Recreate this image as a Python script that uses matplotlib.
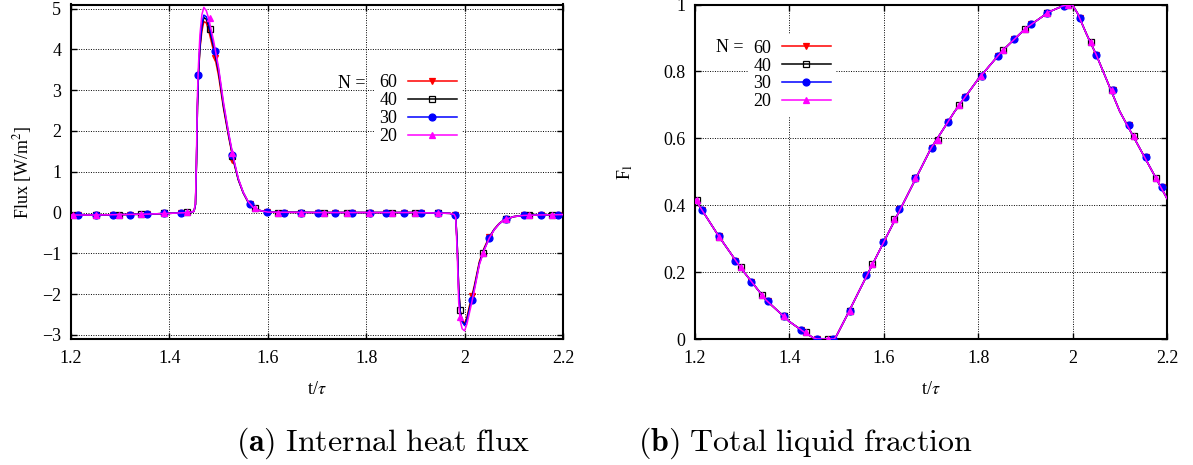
import matplotlib
matplotlib.use('Agg')
from matplotlib import pyplot as plt
from matplotlib.legend_handler import HandlerTuple

plt.rcParams['font.family'] = ['Liberation Serif', 'DejaVu Serif']
plt.rcParams['mathtext.fontset'] = 'stix'

# ---- (a) internal heat flux, lines (common time grid) ----
t_flux = [1.20, 1.25, 1.30, 1.35, 1.40, 1.44, 1.450, 1.453, 1.455, 1.457, 1.459, 1.462, 1.466,
          1.470, 1.475, 1.480, 1.490, 1.500, 1.510, 1.520, 1.530, 1.540, 1.550, 1.560, 1.570,
          1.580, 1.600, 1.700, 1.800, 1.900, 1.970, 1.979, 1.982, 1.985, 1.988, 1.991, 1.995,
          2.000, 2.005, 2.010, 2.015, 2.020, 2.030, 2.040, 2.050, 2.060, 2.070, 2.080, 2.100,
          2.120, 2.150, 2.200]
flux_60 = [-0.06, -0.06, -0.05, -0.04, -0.02, 0.0, 0.03, 0.2, 1.2, 2.6, 3.35, 4.0, 4.45,
           4.68, 4.65, 4.45, 3.95, 3.35, 2.55, 1.88, 1.27, 0.8, 0.48, 0.25, 0.12,
           0.06, 0.01, 0.0, 0.0, 0.0, -0.02, -0.05, -0.1, -0.8, -1.85, -2.4, -2.64,
           -2.72, -2.55, -2.28, -2.03, -1.78, -1.2, -0.86, -0.6, -0.41, -0.27, -0.18, -0.1,
           -0.07, -0.06, -0.05]
flux_40 = [-0.06, -0.06, -0.05, -0.04, -0.02, 0.0, 0.03, 0.2, 1.2, 2.6, 3.38, 4.05, 4.55,
           4.78, 4.74, 4.55, 4.05, 3.45, 2.6, 1.92, 1.3, 0.81, 0.49, 0.26, 0.13,
           0.06, 0.01, 0.0, 0.0, 0.0, -0.02, -0.05, -0.1, -0.8, -1.9, -2.4, -2.66,
           -2.75, -2.6, -2.34, -2.1, -1.83, -1.24, -0.89, -0.62, -0.42, -0.28, -0.18, -0.1,
           -0.07, -0.06, -0.05]
flux_30 = [-0.06, -0.06, -0.05, -0.04, -0.02, 0.0, 0.03, 0.2, 1.2, 2.6, 3.4, 4.1, 4.6,
           4.84, 4.8, 4.62, 4.1, 3.5, 2.65, 1.95, 1.32, 0.82, 0.49, 0.26, 0.13,
           0.06, 0.01, 0.0, 0.0, 0.0, -0.02, -0.05, -0.1, -0.8, -1.9, -2.45, -2.68,
           -2.77, -2.62, -2.37, -2.12, -1.85, -1.25, -0.9, -0.62, -0.42, -0.28, -0.18, -0.1,
           -0.07, -0.06, -0.05]
flux_20 = [-0.06, -0.06, -0.05, -0.04, -0.02, 0.0, 0.03, 0.25, 1.4, 2.9, 3.6, 4.35, 4.85,
           5.03, 4.95, 4.75, 4.2, 3.55, 2.7, 1.98, 1.35, 0.84, 0.5, 0.27, 0.13,
           0.06, 0.01, 0.0, 0.0, 0.0, -0.02, -0.05, -0.12, -1.0, -2.2, -2.65, -2.85,
           -2.9, -2.72, -2.45, -2.18, -1.9, -1.28, -0.92, -0.63, -0.43, -0.28, -0.18, -0.1,
           -0.07, -0.06, -0.05]

# marker samples: N=60 and N=30 share one output interval, N=40 and N=20 another
t_mark_a = [1.215, 1.250, 1.285, 1.319, 1.354, 1.389, 1.424, 1.459, 1.493, 1.528, 1.563, 1.598,
            1.633, 1.667, 1.702, 1.737, 1.772, 1.807, 1.841, 1.876, 1.911, 1.946, 1.981, 2.015,
            2.050, 2.085, 2.120, 2.155, 2.189]
t_mark_b = [1.204, 1.251, 1.297, 1.343, 1.389, 1.436, 1.482, 1.528, 1.575, 1.621, 1.667, 1.714,
            1.760, 1.806, 1.853, 1.899, 1.945, 1.991, 2.038, 2.084, 2.130, 2.177]

flux_mk60 = [-0.06, -0.06, -0.05, -0.05, -0.04, -0.02, 0.0, 3.35, 3.8, 1.3, 0.2, 0.01,
             0.0, 0.0, 0.0, 0.0, 0.0, 0.0, 0.0, 0.0, 0.0, 0.0, -0.05, -2.05,
             -0.6, -0.15, -0.07, -0.06, -0.05]
flux_mk30 = [-0.06, -0.06, -0.05, -0.05, -0.04, -0.02, 0.0, 3.38, 3.95, 1.4, 0.22, 0.01,
             0.0, 0.0, 0.0, 0.0, 0.0, 0.0, 0.0, 0.0, 0.0, 0.0, -0.05, -2.15,
             -0.63, -0.16, -0.07, -0.06, -0.05]
flux_mk40 = [-0.07, -0.06, -0.05, -0.04, -0.02, 0.02, 4.5, 1.38, 0.1, 0.0, 0.0, 0.0,
             0.0, 0.0, 0.0, 0.0, 0.0, -2.4, -0.98, -0.15, -0.07, -0.06]
flux_mk20 = [-0.07, -0.06, -0.05, -0.04, -0.02, 0.02, 4.78, 1.45, 0.1, 0.0, 0.0, 0.0,
             0.0, 0.0, 0.0, 0.0, 0.0, -2.57, -1.0, -0.15, -0.07, -0.06]

# ---- (b) total liquid fraction ----
t_frac = [1.20, 1.25, 1.30, 1.35, 1.40, 1.43, 1.45, 1.458, 1.495, 1.50, 1.52, 1.55, 1.60,
          1.65, 1.70, 1.75, 1.80, 1.85, 1.90, 1.95, 1.98, 1.995, 2.00, 2.01, 2.03, 2.05,
          2.10, 2.15, 2.20]
frac_60 = [0.418, 0.308, 0.207, 0.117, 0.052, 0.022, 0.004, 0.0, 0.0, 0.01, 0.065, 0.15, 0.29,
           0.43, 0.57, 0.68, 0.777, 0.86, 0.928, 0.978, 0.996, 1.0, 0.998, 0.975, 0.91, 0.85,
           0.68, 0.55, 0.42]
frac_40 = [0.418, 0.308, 0.207, 0.117, 0.052, 0.022, 0.004, 0.0, 0.0, 0.01, 0.065, 0.15, 0.29,
           0.43, 0.57, 0.68, 0.777, 0.86, 0.928, 0.978, 0.996, 1.0, 0.998, 0.975, 0.91, 0.85,
           0.68, 0.55, 0.42]
frac_30 = [0.418, 0.308, 0.207, 0.117, 0.052, 0.022, 0.004, 0.0, 0.0, 0.01, 0.065, 0.15, 0.29,
           0.43, 0.57, 0.68, 0.777, 0.86, 0.928, 0.978, 0.996, 1.0, 0.998, 0.975, 0.91, 0.85,
           0.68, 0.55, 0.42]
frac_20 = [0.418, 0.308, 0.207, 0.117, 0.052, 0.022, 0.004, 0.0, 0.0, 0.01, 0.065, 0.15, 0.29,
           0.43, 0.57, 0.68, 0.777, 0.86, 0.928, 0.978, 0.996, 1.0, 0.998, 0.975, 0.91, 0.85,
           0.68, 0.55, 0.42]

frac_mk_a = [0.386, 0.307, 0.234, 0.169, 0.114, 0.068, 0.028, 0.0, 0.0, 0.083, 0.191, 0.291,
             0.39, 0.482, 0.57, 0.649, 0.723, 0.787, 0.847, 0.898, 0.942, 0.975, 0.996, 0.961,
             0.85, 0.744, 0.641, 0.545, 0.454]
frac_mk_b = [0.415, 0.306, 0.214, 0.132, 0.068, 0.02, 0.0, 0.083, 0.224, 0.358, 0.482, 0.596,
             0.70, 0.787, 0.865, 0.926, 0.974, 1.0, 0.887, 0.744, 0.608, 0.482]

labels = ['60', '40', '30', '20']
colors = ['#ff0000', '#000000', '#0000ff', '#ff00ff']
markers = ['v', 's', 'o', '^']
msizes = [5, 4, 5, 5]
x_ticks = [1.2, 1.4, 1.6, 1.8, 2.0, 2.2]
x_ticklabels = ['1.2', '1.4', '1.6', '1.8', '2', '2.2']

FS = 13


def draw_panel(ax, t_line, lines, mark_t, mark_y):
    handles = []
    for i in range(4):
        ln, = ax.plot(t_line, lines[i], color=colors[i], lw=1.1, zorder=3 + i)
        face = 'none' if markers[i] == 's' else colors[i]
        mk, = ax.plot(mark_t[i], mark_y[i], ls='none', marker=markers[i], ms=msizes[i],
                      mfc=face, mec=colors[i], mew=0.9, zorder=3 + i)
        handles.append((ln, mk))
    ax.set_xlim(1.2, 2.2)
    ax.set_xticks(x_ticks)
    ax.set_xticklabels(x_ticklabels)
    ax.grid(True, color='black', lw=0.7, ls=(0, (1, 1.5)))
    ax.set_axisbelow(True)
    for s in ax.spines.values():
        s.set_linewidth(1.5)
    ax.tick_params(direction='in', top=True, right=True, length=4.5, width=1, labelsize=FS)
    ax.tick_params(axis='x', pad=8)
    ax.tick_params(axis='y', pad=7)
    ax.set_xlabel(r't/$\tau$', fontsize=FS, labelpad=10)
    return handles


fig = plt.figure(figsize=(11.93, 4.65), dpi=100)
ax1 = fig.add_axes([71 / 1193, 1 - 339 / 465, 492 / 1193, 334.5 / 465])
ax2 = fig.add_axes([695 / 1193, 1 - 339 / 465, 472 / 1193, 334.5 / 465])

h1 = draw_panel(ax1, t_flux, [flux_60, flux_40, flux_30, flux_20],
                [t_mark_a, t_mark_b, t_mark_a, t_mark_b],
                [flux_mk60, flux_mk40, flux_mk30, flux_mk20])
ax1.set_ylim(-3.1, 5.1)
ax1.set_yticks(range(-3, 6))
ax1.set_ylabel(r'Flux [W/m$^2$]', fontsize=FS, labelpad=6)

h2 = draw_panel(ax2, t_frac, [frac_60, frac_40, frac_30, frac_20],
                [t_mark_a, t_mark_b, t_mark_a, t_mark_b],
                [frac_mk_a, frac_mk_b, frac_mk_a, frac_mk_b])
ax2.set_ylim(0, 1)
ax2.set_yticks([0, 0.2, 0.4, 0.6, 0.8, 1.0])
ax2.set_yticklabels(['0', '0.2', '0.4', '0.6', '0.8', '1'])
ax2.set_ylabel(r'F$_\mathrm{l}$', fontsize=FS, labelpad=20)

# legends in gnuplot style: "N =" in front, label then sample
for ax, h, anchor, npos in [(ax1, h1, (0.795, 0.808), (0.598, 0.765)),
                            (ax2, h2, (0.299, 0.911), (0.102, 0.87))]:
    leg = ax.legend(h, labels, loc='upper right', bbox_to_anchor=anchor, markerfirst=False,
                    handler_map={tuple: HandlerTuple(ndivide=1)}, numpoints=1,
                    fontsize=FS, handlelength=2.7, handletextpad=0.6, labelspacing=0.05,
                    borderpad=0.3, borderaxespad=0, frameon=True, fancybox=False,
                    framealpha=1, facecolor='white', edgecolor='none')
    ax.text(npos[0], npos[1], 'N =', transform=ax.transAxes, ha='right', va='center',
            fontsize=FS)

fig.text(383 / 1193, 1 - 443 / 465, r'$\mathbf{(a)}\ \mathrm{Internal\ heat\ flux}$',
         math_fontfamily='cm', fontsize=23, ha='center', va='center')
fig.text(805 / 1193, 1 - 443 / 465, r'$\mathbf{(b)}\ \mathrm{Total\ liquid\ fraction}$',
         math_fontfamily='cm', fontsize=23, ha='center', va='center')

fig.savefig('out.png', dpi=100)
